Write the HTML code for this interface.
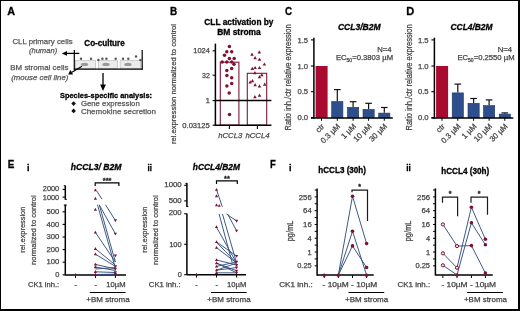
<!DOCTYPE html>
<html><head><meta charset="utf-8"><style>
html,body{margin:0;padding:0;background:#fff;width:520px;height:311px;overflow:hidden}
svg{display:block;font-family:"Liberation Sans",sans-serif;will-change:transform}
</style></head><body>
<svg width="520" height="311" viewBox="0 0 520 311">
<rect x="0" y="0" width="520" height="1" fill="#000" stroke="none" stroke-width="1"/>
<rect x="0" y="0" width="1" height="311" fill="#000" stroke="none" stroke-width="1"/>
<rect x="518" y="0" width="2" height="311" fill="#000" stroke="none" stroke-width="1"/>
<rect x="0" y="309" width="520" height="2" fill="#000" stroke="none" stroke-width="1"/>
<text x="7.3" y="15.4" font-size="11.2" font-weight="bold" fill="#000" textLength="7.8" lengthAdjust="spacingAndGlyphs" stroke="#000" stroke-width="0.3" >A</text>
<text x="169.9" y="15.4" font-size="11.2" font-weight="bold" fill="#000" textLength="7.2" lengthAdjust="spacingAndGlyphs" stroke="#000" stroke-width="0.3" >B</text>
<text x="285.0" y="15.4" font-size="11.2" font-weight="bold" fill="#000" textLength="7.1" lengthAdjust="spacingAndGlyphs" stroke="#000" stroke-width="0.3" >C</text>
<text x="406.2" y="15.4" font-size="11.2" font-weight="bold" fill="#000" textLength="8.0" lengthAdjust="spacingAndGlyphs" stroke="#000" stroke-width="0.3" >D</text>
<text x="7.7" y="168.1" font-size="11.2" font-weight="bold" fill="#000" textLength="6.6" lengthAdjust="spacingAndGlyphs" stroke="#000" stroke-width="0.3" >E</text>
<text x="270.1" y="168.1" font-size="11.2" font-weight="bold" fill="#000" textLength="5.8" lengthAdjust="spacingAndGlyphs" stroke="#000" stroke-width="0.3" >F</text>
<text x="12.4" y="43.8" font-size="7.7" fill="#555555" textLength="60.2" lengthAdjust="spacingAndGlyphs" stroke="#555555" stroke-width="0.25" >CLL primary cells</text>
<text x="28.9" y="52.8" font-size="7.7" font-style="italic" fill="#555555" textLength="28.3" lengthAdjust="spacingAndGlyphs" stroke="#555555" stroke-width="0.25" >(human)</text>
<text x="10.3" y="70.4" font-size="7.7" fill="#555555" textLength="58.1" lengthAdjust="spacingAndGlyphs" stroke="#555555" stroke-width="0.25" >BM stromal cells</text>
<text x="11.2" y="79.6" font-size="7.7" font-style="italic" fill="#555555" textLength="57.2" lengthAdjust="spacingAndGlyphs" stroke="#555555" stroke-width="0.25" >(mouse cell line)</text>
<text x="84.3" y="45.5" font-size="8.2" font-weight="bold" fill="#000" textLength="40.4" lengthAdjust="spacingAndGlyphs" stroke="#000" stroke-width="0.3" >Co-culture</text>
<rect x="75.4" y="60.6" width="20.0" height="8.2" fill="#ececec" stroke="#bdbdbd" stroke-width="0.7"/>
<rect x="98.4" y="60.6" width="19.1" height="8.2" fill="#ececec" stroke="#bdbdbd" stroke-width="0.7"/>
<rect x="120.2" y="60.6" width="20.1" height="8.2" fill="#ececec" stroke="#bdbdbd" stroke-width="0.7"/>
<ellipse cx="84.6" cy="64.4" rx="3.7" ry="1.6" fill="#999"/>
<ellipse cx="106.0" cy="64.4" rx="3.7" ry="1.6" fill="#999"/>
<ellipse cx="127.9" cy="64.4" rx="3.7" ry="1.6" fill="#999"/>
<circle cx="81" cy="58.7" r="1.25" fill="#5a5a5a" stroke="none" stroke-width="0.8"/>
<circle cx="91" cy="58.7" r="1.25" fill="#5a5a5a" stroke="none" stroke-width="0.8"/>
<circle cx="98.4" cy="60" r="1.25" fill="#5a5a5a" stroke="none" stroke-width="0.8"/>
<circle cx="102.4" cy="58.7" r="1.25" fill="#5a5a5a" stroke="none" stroke-width="0.8"/>
<circle cx="106.4" cy="58.7" r="1.25" fill="#5a5a5a" stroke="none" stroke-width="0.8"/>
<circle cx="115.7" cy="58.7" r="1.25" fill="#5a5a5a" stroke="none" stroke-width="0.8"/>
<circle cx="123" cy="58.7" r="1.25" fill="#5a5a5a" stroke="none" stroke-width="0.8"/>
<circle cx="128.3" cy="58.7" r="1.25" fill="#5a5a5a" stroke="none" stroke-width="0.8"/>
<circle cx="136" cy="56.5" r="1.25" fill="#5a5a5a" stroke="none" stroke-width="0.8"/>
<circle cx="140.4" cy="60" r="1.25" fill="#5a5a5a" stroke="none" stroke-width="0.8"/>
<line x1="74.3" y1="50" x2="74.3" y2="69.7" stroke="#000" stroke-width="1.2" />
<line x1="142.2" y1="50" x2="142.2" y2="69.7" stroke="#000" stroke-width="1.2" />
<line x1="73.8" y1="69.2" x2="142.7" y2="69.2" stroke="#000" stroke-width="1.2" />
<line x1="79.3" y1="53.4" x2="65" y2="53.4" stroke="#000" stroke-width="1.3" />
<polygon points="61.8,53.4 67,51.1 67,55.7" fill="#000"/>
<line x1="82" y1="66.3" x2="71.5" y2="72.4" stroke="#000" stroke-width="1.2" />
<polygon points="68.2,74.4 70.3,69.9 73.1,74.4" fill="#000"/>
<line x1="103" y1="73" x2="103" y2="85" stroke="#000" stroke-width="1.3" />
<polygon points="103,91 100.1,84.4 105.9,84.4" fill="#000"/>
<text x="60" y="97.6" font-size="7.7" font-weight="bold" fill="#000" textLength="92" lengthAdjust="spacingAndGlyphs" stroke="#000" stroke-width="0.3" >Species-specific analysis:</text>
<polygon points="73.6,101.3 75.9,103.6 73.6,105.9 71.3,103.6" fill="#111"/>
<polygon points="73.6,108.6 75.9,110.9 73.6,113.2 71.3,110.9" fill="#111"/>
<text x="80.9" y="106.2" font-size="7.7" fill="#555555" textLength="58.9" lengthAdjust="spacingAndGlyphs" stroke="#555555" stroke-width="0.25" >Gene expression</text>
<text x="80.9" y="113.6" font-size="7.7" fill="#555555" textLength="75.1" lengthAdjust="spacingAndGlyphs" stroke="#555555" stroke-width="0.25" >Chemokine secretion</text>
<text x="204.3" y="25.1" font-size="8.3" font-weight="bold" fill="#000" textLength="69.2" lengthAdjust="spacingAndGlyphs" stroke="#000" stroke-width="0.3" >CLL activation by</text>
<text x="217.2" y="34.5" font-size="8.3" font-weight="bold" fill="#000" textLength="43.6" lengthAdjust="spacingAndGlyphs" stroke="#000" stroke-width="0.3" >BM stroma</text>
<text x="0" y="0" font-size="8.0" text-anchor="middle" fill="#444" textLength="120" lengthAdjust="spacingAndGlyphs" stroke="#444" stroke-width="0.25" transform="translate(176.0,84) rotate(-90)">rel.expression normalized to control</text>
<rect x="220.3" y="62.2" width="18.6" height="63" fill="none" stroke="#7d1a38" stroke-width="1.1"/>
<rect x="247.3" y="73.3" width="19.4" height="51.9" fill="none" stroke="#7d1a38" stroke-width="1.1"/>
<line x1="215.4" y1="43.6" x2="215.4" y2="125.8" stroke="#000" stroke-width="1.5" />
<line x1="212.6" y1="50.8" x2="215.4" y2="50.8" stroke="#000" stroke-width="1.1" />
<text x="209.8" y="53.4" font-size="7.4" text-anchor="end" fill="#444" textLength="16.5" lengthAdjust="spacingAndGlyphs" stroke="#444" stroke-width="0.25" >1024</text>
<line x1="212.6" y1="75.2" x2="215.4" y2="75.2" stroke="#000" stroke-width="1.1" />
<text x="209.8" y="77.8" font-size="7.4" text-anchor="end" fill="#444" textLength="7.8" lengthAdjust="spacingAndGlyphs" stroke="#444" stroke-width="0.25" >32</text>
<line x1="212.6" y1="100.6" x2="215.4" y2="100.6" stroke="#000" stroke-width="1.1" />
<text x="209.8" y="103.19999999999999" font-size="7.4" text-anchor="end" fill="#444" stroke="#444" stroke-width="0.25" >1</text>
<line x1="212.6" y1="125.2" x2="215.4" y2="125.2" stroke="#000" stroke-width="1.1" />
<text x="209.8" y="127.8" font-size="7.4" text-anchor="end" fill="#444" textLength="27.5" lengthAdjust="spacingAndGlyphs" stroke="#444" stroke-width="0.25" >0.03125</text>
<line x1="215.4" y1="100.6" x2="271.4" y2="100.6" stroke="#000" stroke-width="1.5" />
<line x1="214.8" y1="125.3" x2="271.4" y2="125.3" stroke="#000" stroke-width="1.5" />
<line x1="229.4" y1="125.3" x2="229.4" y2="129" stroke="#000" stroke-width="1.1" />
<line x1="257.4" y1="125.3" x2="257.4" y2="129" stroke="#000" stroke-width="1.1" />
<text x="218.3" y="138.2" font-size="8" font-style="italic" fill="#444" textLength="23.9" lengthAdjust="spacingAndGlyphs" stroke="#444" stroke-width="0.25" >hCCL3</text>
<text x="245.4" y="138.2" font-size="8" font-style="italic" fill="#444" textLength="24.3" lengthAdjust="spacingAndGlyphs" stroke="#444" stroke-width="0.25" >hCCL4</text>
<circle cx="229.4" cy="46.4" r="1.75" fill="#801030" stroke="none" stroke-width="0.8"/>
<circle cx="226.8" cy="51.8" r="1.75" fill="#801030" stroke="none" stroke-width="0.8"/>
<circle cx="231.7" cy="51.8" r="1.75" fill="#801030" stroke="none" stroke-width="0.8"/>
<circle cx="224.5" cy="55.3" r="1.75" fill="#801030" stroke="none" stroke-width="0.8"/>
<circle cx="229.4" cy="58.5" r="1.75" fill="#801030" stroke="none" stroke-width="0.8"/>
<circle cx="234.2" cy="58.5" r="1.75" fill="#801030" stroke="none" stroke-width="0.8"/>
<circle cx="222.2" cy="62" r="1.75" fill="#801030" stroke="none" stroke-width="0.8"/>
<circle cx="226.8" cy="62" r="1.75" fill="#801030" stroke="none" stroke-width="0.8"/>
<circle cx="231.7" cy="62" r="1.75" fill="#801030" stroke="none" stroke-width="0.8"/>
<circle cx="234" cy="64.3" r="1.75" fill="#801030" stroke="none" stroke-width="0.8"/>
<circle cx="231.7" cy="68.4" r="1.75" fill="#801030" stroke="none" stroke-width="0.8"/>
<circle cx="226.8" cy="70.6" r="1.75" fill="#801030" stroke="none" stroke-width="0.8"/>
<circle cx="226.9" cy="75.4" r="1.75" fill="#801030" stroke="none" stroke-width="0.8"/>
<circle cx="231.7" cy="77.7" r="1.75" fill="#801030" stroke="none" stroke-width="0.8"/>
<circle cx="231.7" cy="83.6" r="1.75" fill="#801030" stroke="none" stroke-width="0.8"/>
<circle cx="226.9" cy="86.0" r="1.75" fill="#801030" stroke="none" stroke-width="0.8"/>
<circle cx="229.2" cy="92.9" r="1.75" fill="#801030" stroke="none" stroke-width="0.8"/>
<circle cx="229.5" cy="114.5" r="1.75" fill="#801030" stroke="none" stroke-width="0.8"/>
<polygon points="252,52.61 250.25,55.76 253.75,55.76" fill="#801030"/>
<polygon points="259.3,50.31 257.55,53.46 261.05,53.46" fill="#801030"/>
<polygon points="255.1,56.11 253.35,59.26 256.85,59.26" fill="#801030"/>
<polygon points="259.5,57.61 257.75,60.76 261.25,60.76" fill="#801030"/>
<polygon points="264.4,62.41 262.65,65.56 266.15,65.56" fill="#801030"/>
<polygon points="252.3,66.81 250.55,69.96000000000001 254.05,69.96000000000001" fill="#801030"/>
<polygon points="255.1,65.91 253.35,69.06 256.85,69.06" fill="#801030"/>
<polygon points="259.5,65.91 257.75,69.06 261.25,69.06" fill="#801030"/>
<polygon points="254.9,71.11 253.15,74.26 256.65,74.26" fill="#801030"/>
<polygon points="261.8,73.01 260.05,76.16000000000001 263.55,76.16000000000001" fill="#801030"/>
<polygon points="259.5,75.11 257.75,78.26 261.25,78.26" fill="#801030"/>
<polygon points="250.2,80.31 248.45,83.46000000000001 251.95,83.46000000000001" fill="#801030"/>
<polygon points="252.5,79.11 250.75,82.26 254.25,82.26" fill="#801030"/>
<polygon points="255.1,83.11 253.35,86.26 256.85,86.26" fill="#801030"/>
<polygon points="259.5,84.31 257.75,87.46000000000001 261.25,87.46000000000001" fill="#801030"/>
<polygon points="264.7,82.61 262.95,85.76 266.45,85.76" fill="#801030"/>
<polygon points="254.9,95.01 253.15,98.16000000000001 256.65,98.16000000000001" fill="#801030"/>
<polygon points="259.5,93.61 257.75,96.76 261.25,96.76" fill="#801030"/>
<text x="337.9" y="30.2" font-size="8.7" font-weight="bold" font-style="italic" fill="#000" textLength="42.7" lengthAdjust="spacingAndGlyphs" stroke="#000" stroke-width="0.3" >CCL3/B2M</text>
<text x="0" y="0" font-size="8.2" text-anchor="middle" fill="#444" textLength="106" lengthAdjust="spacingAndGlyphs" stroke="#444" stroke-width="0.25" transform="translate(291.2,77.4) rotate(-90)">Ratio inh./ctr relative expression</text>
<text x="391.6" y="52.1" font-size="7.6" text-anchor="end" fill="#444" textLength="14.4" lengthAdjust="spacingAndGlyphs" stroke="#444" stroke-width="0.25" >N=4</text>
<text x="335.9" y="60.4" font-size="7.7" fill="#444" stroke="#444" stroke-width="0.25">EC<tspan font-size="5" dy="2">50</tspan><tspan dy="-2">=0.3803 µM</tspan></text>
<rect x="315.6" y="66.0" width="12.0" height="51.8" fill="#a90a30" stroke="none" stroke-width="1"/>
<rect x="331.7" y="101.5" width="11.2" height="16.299999999999994" fill="#2f4f8c" stroke="#1e3563" stroke-width="0.6"/>
<line x1="337.29999999999995" y1="89.6" x2="337.29999999999995" y2="101.2" stroke="#111" stroke-width="1.2" />
<line x1="333.99999999999994" y1="89.6" x2="340.59999999999997" y2="89.6" stroke="#111" stroke-width="1.2" />
<rect x="347.5" y="107.3" width="11.2" height="10.499999999999996" fill="#2f4f8c" stroke="#1e3563" stroke-width="0.6"/>
<line x1="353.09999999999997" y1="101.7" x2="353.09999999999997" y2="107.0" stroke="#111" stroke-width="1.2" />
<line x1="349.79999999999995" y1="101.7" x2="356.4" y2="101.7" stroke="#111" stroke-width="1.2" />
<rect x="363.0" y="109.39999999999999" width="11.2" height="8.400000000000002" fill="#2f4f8c" stroke="#1e3563" stroke-width="0.6"/>
<line x1="368.59999999999997" y1="103.3" x2="368.59999999999997" y2="109.1" stroke="#111" stroke-width="1.2" />
<line x1="365.29999999999995" y1="103.3" x2="371.9" y2="103.3" stroke="#111" stroke-width="1.2" />
<rect x="378.7" y="113.1" width="11.2" height="4.7" fill="#2f4f8c" stroke="#1e3563" stroke-width="0.6"/>
<line x1="384.29999999999995" y1="107.5" x2="384.29999999999995" y2="112.8" stroke="#111" stroke-width="1.2" />
<line x1="380.99999999999994" y1="107.5" x2="387.59999999999997" y2="107.5" stroke="#111" stroke-width="1.2" />
<line x1="313.9" y1="37.7" x2="313.9" y2="118.4" stroke="#000" stroke-width="1.5" />
<line x1="310.9" y1="39.9" x2="313.9" y2="39.9" stroke="#000" stroke-width="1.1" />
<text x="308.0" y="42.6" font-size="7.6" text-anchor="end" fill="#444" textLength="10.6" lengthAdjust="spacingAndGlyphs" stroke="#444" stroke-width="0.25" >1.5</text>
<line x1="310.9" y1="66.0" x2="313.9" y2="66.0" stroke="#000" stroke-width="1.1" />
<text x="308.0" y="68.7" font-size="7.6" text-anchor="end" fill="#444" textLength="10.6" lengthAdjust="spacingAndGlyphs" stroke="#444" stroke-width="0.25" >1.0</text>
<line x1="310.9" y1="91.7" x2="313.9" y2="91.7" stroke="#000" stroke-width="1.1" />
<text x="308.0" y="94.4" font-size="7.6" text-anchor="end" fill="#444" textLength="10.6" lengthAdjust="spacingAndGlyphs" stroke="#444" stroke-width="0.25" >0.5</text>
<line x1="310.9" y1="117.6" x2="313.9" y2="117.6" stroke="#000" stroke-width="1.1" />
<text x="308.0" y="120.3" font-size="7.6" text-anchor="end" fill="#444" textLength="10.6" lengthAdjust="spacingAndGlyphs" stroke="#444" stroke-width="0.25" >0.0</text>
<line x1="311" y1="118.0" x2="392.8" y2="118.0" stroke="#000" stroke-width="1.4" />
<line x1="321.5" y1="118.0" x2="321.5" y2="120.8" stroke="#000" stroke-width="1.0" />
<text x="0" y="0" font-size="7.8" text-anchor="end" fill="#444" stroke="#444" stroke-width="0.25" transform="translate(324.9,126.8) rotate(-45)">ctr</text>
<line x1="337.29999999999995" y1="118.0" x2="337.29999999999995" y2="120.8" stroke="#000" stroke-width="1.0" />
<text x="0" y="0" font-size="7.8" text-anchor="end" fill="#444" stroke="#444" stroke-width="0.25" transform="translate(340.69999999999993,126.8) rotate(-45)">0.3 µM</text>
<line x1="353.09999999999997" y1="118.0" x2="353.09999999999997" y2="120.8" stroke="#000" stroke-width="1.0" />
<text x="0" y="0" font-size="7.8" text-anchor="end" fill="#444" stroke="#444" stroke-width="0.25" transform="translate(356.49999999999994,126.8) rotate(-45)">1 µM</text>
<line x1="368.59999999999997" y1="118.0" x2="368.59999999999997" y2="120.8" stroke="#000" stroke-width="1.0" />
<text x="0" y="0" font-size="7.8" text-anchor="end" fill="#444" stroke="#444" stroke-width="0.25" transform="translate(371.99999999999994,126.8) rotate(-45)">10 µM</text>
<line x1="384.29999999999995" y1="118.0" x2="384.29999999999995" y2="120.8" stroke="#000" stroke-width="1.0" />
<text x="0" y="0" font-size="7.8" text-anchor="end" fill="#444" stroke="#444" stroke-width="0.25" transform="translate(387.69999999999993,126.8) rotate(-45)">30 µM</text>
<text x="450.5" y="30.2" font-size="8.7" font-weight="bold" font-style="italic" fill="#000" textLength="42.0" lengthAdjust="spacingAndGlyphs" stroke="#000" stroke-width="0.3" >CCL4/B2M</text>
<text x="0" y="0" font-size="8.2" text-anchor="middle" fill="#444" textLength="106" lengthAdjust="spacingAndGlyphs" stroke="#444" stroke-width="0.25" transform="translate(411.7,77.4) rotate(-90)">Ratio inh./ctr relative expression</text>
<text x="512.1" y="52.1" font-size="7.6" text-anchor="end" fill="#444" textLength="14.4" lengthAdjust="spacingAndGlyphs" stroke="#444" stroke-width="0.25" >N=4</text>
<text x="457.4" y="60.4" font-size="7.7" fill="#444" stroke="#444" stroke-width="0.25">EC<tspan font-size="5" dy="2">50</tspan><tspan dy="-2">=0.2550 µM</tspan></text>
<rect x="436.1" y="66.0" width="12.0" height="51.8" fill="#a90a30" stroke="none" stroke-width="1"/>
<rect x="452.2" y="92.89999999999999" width="11.2" height="24.900000000000002" fill="#2f4f8c" stroke="#1e3563" stroke-width="0.6"/>
<line x1="457.79999999999995" y1="84.1" x2="457.79999999999995" y2="92.6" stroke="#111" stroke-width="1.2" />
<line x1="454.49999999999994" y1="84.1" x2="461.09999999999997" y2="84.1" stroke="#111" stroke-width="1.2" />
<rect x="468.0" y="103.3" width="11.2" height="14.499999999999996" fill="#2f4f8c" stroke="#1e3563" stroke-width="0.6"/>
<line x1="473.59999999999997" y1="98.5" x2="473.59999999999997" y2="103.0" stroke="#111" stroke-width="1.2" />
<line x1="470.29999999999995" y1="98.5" x2="476.9" y2="98.5" stroke="#111" stroke-width="1.2" />
<rect x="483.5" y="105.6" width="11.2" height="12.2" fill="#2f4f8c" stroke="#1e3563" stroke-width="0.6"/>
<line x1="489.09999999999997" y1="99.9" x2="489.09999999999997" y2="105.3" stroke="#111" stroke-width="1.2" />
<line x1="485.79999999999995" y1="99.9" x2="492.4" y2="99.9" stroke="#111" stroke-width="1.2" />
<rect x="499.2" y="114.1" width="11.2" height="3.7" fill="#2f4f8c" stroke="#1e3563" stroke-width="0.6"/>
<line x1="504.79999999999995" y1="112.9" x2="504.79999999999995" y2="113.8" stroke="#111" stroke-width="1.2" />
<line x1="501.49999999999994" y1="112.9" x2="508.09999999999997" y2="112.9" stroke="#111" stroke-width="1.2" />
<line x1="434.4" y1="37.7" x2="434.4" y2="118.4" stroke="#000" stroke-width="1.5" />
<line x1="431.4" y1="39.9" x2="434.4" y2="39.9" stroke="#000" stroke-width="1.1" />
<text x="428.5" y="42.6" font-size="7.6" text-anchor="end" fill="#444" textLength="10.6" lengthAdjust="spacingAndGlyphs" stroke="#444" stroke-width="0.25" >1.5</text>
<line x1="431.4" y1="66.0" x2="434.4" y2="66.0" stroke="#000" stroke-width="1.1" />
<text x="428.5" y="68.7" font-size="7.6" text-anchor="end" fill="#444" textLength="10.6" lengthAdjust="spacingAndGlyphs" stroke="#444" stroke-width="0.25" >1.0</text>
<line x1="431.4" y1="91.7" x2="434.4" y2="91.7" stroke="#000" stroke-width="1.1" />
<text x="428.5" y="94.4" font-size="7.6" text-anchor="end" fill="#444" textLength="10.6" lengthAdjust="spacingAndGlyphs" stroke="#444" stroke-width="0.25" >0.5</text>
<line x1="431.4" y1="117.6" x2="434.4" y2="117.6" stroke="#000" stroke-width="1.1" />
<text x="428.5" y="120.3" font-size="7.6" text-anchor="end" fill="#444" textLength="10.6" lengthAdjust="spacingAndGlyphs" stroke="#444" stroke-width="0.25" >0.0</text>
<line x1="431.5" y1="118.0" x2="513.3" y2="118.0" stroke="#000" stroke-width="1.4" />
<line x1="442.0" y1="118.0" x2="442.0" y2="120.8" stroke="#000" stroke-width="1.0" />
<text x="0" y="0" font-size="7.8" text-anchor="end" fill="#444" stroke="#444" stroke-width="0.25" transform="translate(445.4,126.8) rotate(-45)">ctr</text>
<line x1="457.79999999999995" y1="118.0" x2="457.79999999999995" y2="120.8" stroke="#000" stroke-width="1.0" />
<text x="0" y="0" font-size="7.8" text-anchor="end" fill="#444" stroke="#444" stroke-width="0.25" transform="translate(461.19999999999993,126.8) rotate(-45)">0.3 µM</text>
<line x1="473.59999999999997" y1="118.0" x2="473.59999999999997" y2="120.8" stroke="#000" stroke-width="1.0" />
<text x="0" y="0" font-size="7.8" text-anchor="end" fill="#444" stroke="#444" stroke-width="0.25" transform="translate(476.99999999999994,126.8) rotate(-45)">1 µM</text>
<line x1="489.09999999999997" y1="118.0" x2="489.09999999999997" y2="120.8" stroke="#000" stroke-width="1.0" />
<text x="0" y="0" font-size="7.8" text-anchor="end" fill="#444" stroke="#444" stroke-width="0.25" transform="translate(492.49999999999994,126.8) rotate(-45)">10 µM</text>
<line x1="504.79999999999995" y1="118.0" x2="504.79999999999995" y2="120.8" stroke="#000" stroke-width="1.0" />
<text x="0" y="0" font-size="7.8" text-anchor="end" fill="#444" stroke="#444" stroke-width="0.25" transform="translate(508.19999999999993,126.8) rotate(-45)">30 µM</text>
<text x="27.0" y="170.8" font-size="9" font-weight="bold" fill="#000" stroke="#000" stroke-width="0.3" >i</text>
<text x="70.8" y="169.8" font-size="8.6" font-weight="bold" font-style="italic" fill="#000" textLength="50.7" lengthAdjust="spacingAndGlyphs" stroke="#000" stroke-width="0.3" >hCCL3/ B2M</text>
<text x="0" y="0" font-size="8.1" text-anchor="middle" fill="#444" textLength="46" lengthAdjust="spacingAndGlyphs" stroke="#444" stroke-width="0.25" transform="translate(25.4,229.7) rotate(-90)">rel.expression</text>
<text x="0" y="0" font-size="8.1" text-anchor="middle" fill="#444" textLength="69.6" lengthAdjust="spacingAndGlyphs" stroke="#444" stroke-width="0.25" transform="translate(36.0,230.1) rotate(-90)">normalized to control</text>
<text x="107.1" y="183.3" font-size="7.4" text-anchor="middle" font-weight="bold" fill="#222" stroke="#222" stroke-width="0.3" >***</text>
<path d="M95.2,186.0 V182.8 H118.9 V186.0" stroke="#000" stroke-width="1.2" fill="none"/>
<line x1="65.3" y1="185.5" x2="65.3" y2="199.7" stroke="#000" stroke-width="1.5" />
<line x1="65.3" y1="199.3" x2="66.8" y2="199.3" stroke="#000" stroke-width="1.0" />
<line x1="63.8" y1="185.8" x2="65.3" y2="185.8" stroke="#000" stroke-width="1.0" />
<line x1="62.6" y1="189.4" x2="65.3" y2="189.4" stroke="#000" stroke-width="1.1" />
<line x1="62.6" y1="197.1" x2="65.3" y2="197.1" stroke="#000" stroke-width="1.1" />
<text x="59.2" y="191.4" font-size="7.3" text-anchor="end" fill="#444" textLength="16.4" lengthAdjust="spacingAndGlyphs" stroke="#444" stroke-width="0.25" >2000</text>
<text x="59.2" y="199.5" font-size="7.3" text-anchor="end" fill="#444" textLength="16.4" lengthAdjust="spacingAndGlyphs" stroke="#444" stroke-width="0.25" >1000</text>
<line x1="65.3" y1="204.7" x2="65.3" y2="275.5" stroke="#000" stroke-width="1.5" />
<line x1="63.8" y1="205.1" x2="66.8" y2="205.1" stroke="#000" stroke-width="1.0" />
<line x1="62.6" y1="211.8" x2="65.3" y2="211.8" stroke="#000" stroke-width="1.1" />
<text x="59.4" y="214.0" font-size="7.4" text-anchor="end" fill="#444" textLength="12.8" lengthAdjust="spacingAndGlyphs" stroke="#444" stroke-width="0.25" >500</text>
<line x1="62.6" y1="224.4" x2="65.3" y2="224.4" stroke="#000" stroke-width="1.1" />
<text x="59.4" y="226.6" font-size="7.4" text-anchor="end" fill="#444" textLength="12.8" lengthAdjust="spacingAndGlyphs" stroke="#444" stroke-width="0.25" >400</text>
<line x1="62.6" y1="237.0" x2="65.3" y2="237.0" stroke="#000" stroke-width="1.1" />
<text x="59.4" y="239.2" font-size="7.4" text-anchor="end" fill="#444" textLength="12.8" lengthAdjust="spacingAndGlyphs" stroke="#444" stroke-width="0.25" >300</text>
<line x1="62.6" y1="249.60000000000002" x2="65.3" y2="249.60000000000002" stroke="#000" stroke-width="1.1" />
<text x="59.4" y="251.8" font-size="7.4" text-anchor="end" fill="#444" textLength="12.8" lengthAdjust="spacingAndGlyphs" stroke="#444" stroke-width="0.25" >200</text>
<line x1="62.6" y1="262.2" x2="65.3" y2="262.2" stroke="#000" stroke-width="1.1" />
<text x="59.4" y="264.4" font-size="7.4" text-anchor="end" fill="#444" textLength="12.8" lengthAdjust="spacingAndGlyphs" stroke="#444" stroke-width="0.25" >100</text>
<line x1="62.6" y1="274.8" x2="65.3" y2="274.8" stroke="#000" stroke-width="1.1" />
<text x="59.4" y="277.0" font-size="7.4" text-anchor="end" fill="#444" stroke="#444" stroke-width="0.25" >0</text>
<line x1="65.3" y1="275.1" x2="126" y2="275.1" stroke="#000" stroke-width="1.5" />
<line x1="75.5" y1="275.1" x2="75.5" y2="278" stroke="#000" stroke-width="1.0" />
<line x1="95.4" y1="275.1" x2="95.4" y2="278" stroke="#000" stroke-width="1.0" />
<line x1="115.4" y1="275.1" x2="115.4" y2="278" stroke="#000" stroke-width="1.0" />
<g stroke="#34507f" stroke-width="0.95" fill="none">
<polyline points="96.8,191 102,199.2"/>
<polyline points="97.5,204.8 114.8,266"/>
<polyline points="99.3,204.8 115.4,262"/>
<polyline points="99.2,204.8 115.4,233.8"/>
<polyline points="105.5,204.8 115.4,220.5"/>
<polyline points="95.4,232.4 115.4,262"/>
<polyline points="95.4,248.8 115.4,265"/>
<polyline points="95.4,254.2 115.4,266.4"/>
<polyline points="95.4,264.4 115.4,269"/>
<polyline points="95.4,267 115.4,270.5"/>
<polyline points="95.4,271.8 115.4,272.5"/>
<polyline points="95.4,274.5 115.4,274.2"/>
<polyline points="95.4,269 115.4,267.5"/>
</g>
<polygon points="95.4,188.47199999999998 93.80000000000001,191.35199999999998 97.0,191.35199999999998" fill="#801030"/>
<polygon points="95.4,196.87199999999999 93.80000000000001,199.75199999999998 97.0,199.75199999999998" fill="#801030"/>
<polygon points="95.4,207.772 93.80000000000001,210.652 97.0,210.652" fill="#801030"/>
<polygon points="95.4,230.672 93.80000000000001,233.552 97.0,233.552" fill="#801030"/>
<polygon points="95.4,247.072 93.80000000000001,249.952 97.0,249.952" fill="#801030"/>
<polygon points="95.4,252.47199999999998 93.80000000000001,255.35199999999998 97.0,255.35199999999998" fill="#801030"/>
<polygon points="95.4,262.67199999999997 93.80000000000001,265.55199999999996 97.0,265.55199999999996" fill="#801030"/>
<polygon points="95.4,265.272 93.80000000000001,268.152 97.0,268.152" fill="#801030"/>
<polygon points="95.4,270.072 93.80000000000001,272.952 97.0,272.952" fill="#801030"/>
<polygon points="95.4,272.772 93.80000000000001,275.652 97.0,275.652" fill="#801030"/>
<polygon points="115.4,222.228 113.80000000000001,219.348 117.0,219.348" fill="#801030"/>
<polygon points="115.4,235.52800000000002 113.80000000000001,232.64800000000002 117.0,232.64800000000002" fill="#801030"/>
<polygon points="115.4,257.328 113.80000000000001,254.448 117.0,254.448" fill="#801030"/>
<polygon points="115.4,268.128 113.80000000000001,265.248 117.0,265.248" fill="#801030"/>
<polygon points="115.4,270.728 113.80000000000001,267.848 117.0,267.848" fill="#801030"/>
<polygon points="115.4,274.228 113.80000000000001,271.348 117.0,271.348" fill="#801030"/>
<polygon points="115.4,275.928 113.80000000000001,273.048 117.0,273.048" fill="#801030"/>
<polygon points="75.5,272.98 74.0,275.68 77.0,275.68" fill="#801030"/>
<text x="28.0" y="287.3" font-size="7.3" fill="#444" textLength="31.2" lengthAdjust="spacingAndGlyphs" stroke="#444" stroke-width="0.25" >CK1 inh.:</text>
<text x="75.7" y="287.3" font-size="7.3" text-anchor="middle" fill="#444" stroke="#444" stroke-width="0.25" >-</text>
<text x="95.7" y="287.3" font-size="7.3" text-anchor="middle" fill="#444" stroke="#444" stroke-width="0.25" >-</text>
<text x="106.3" y="287.3" font-size="7.3" fill="#444" textLength="19.3" lengthAdjust="spacingAndGlyphs" stroke="#444" stroke-width="0.25" >10µM</text>
<line x1="89.8" y1="292.5" x2="125.6" y2="292.5" stroke="#000" stroke-width="1.1" />
<text x="86.3" y="302.2" font-size="7.3" fill="#444" textLength="43.3" lengthAdjust="spacingAndGlyphs" stroke="#444" stroke-width="0.25" >+BM stroma</text>
<text x="147.6" y="170.8" font-size="9" font-weight="bold" fill="#000" textLength="4.4" lengthAdjust="spacingAndGlyphs" stroke="#000" stroke-width="0.3" >ii</text>
<text x="192.8" y="169.8" font-size="8.6" font-weight="bold" font-style="italic" fill="#000" textLength="47.1" lengthAdjust="spacingAndGlyphs" stroke="#000" stroke-width="0.3" >hCCL4/B2M</text>
<text x="0" y="0" font-size="8.1" text-anchor="middle" fill="#444" textLength="46" lengthAdjust="spacingAndGlyphs" stroke="#444" stroke-width="0.25" transform="translate(146.6,229.7) rotate(-90)">rel.expression</text>
<text x="0" y="0" font-size="8.1" text-anchor="middle" fill="#444" textLength="69.6" lengthAdjust="spacingAndGlyphs" stroke="#444" stroke-width="0.25" transform="translate(157.9,230.1) rotate(-90)">normalized to control</text>
<text x="226.9" y="181.4" font-size="7.4" text-anchor="middle" font-weight="bold" fill="#222" stroke="#222" stroke-width="0.3" >**</text>
<path d="M216.5,184.1 V180.8 H237.3 V184.1" stroke="#000" stroke-width="1.2" fill="none"/>
<line x1="186.9" y1="183" x2="186.9" y2="207" stroke="#000" stroke-width="1.5" />
<line x1="185.4" y1="183.3" x2="186.9" y2="183.3" stroke="#000" stroke-width="1.0" />
<line x1="186.9" y1="206.6" x2="188.4" y2="206.6" stroke="#000" stroke-width="1.0" />
<line x1="184.2" y1="185.3" x2="186.9" y2="185.3" stroke="#000" stroke-width="1.1" />
<line x1="184.2" y1="200.9" x2="186.9" y2="200.9" stroke="#000" stroke-width="1.1" />
<text x="181.7" y="187.4" font-size="7.3" text-anchor="end" fill="#444" textLength="17.4" lengthAdjust="spacingAndGlyphs" stroke="#444" stroke-width="0.25" >1000</text>
<text x="181.7" y="203.0" font-size="7.3" text-anchor="end" fill="#444" textLength="13" lengthAdjust="spacingAndGlyphs" stroke="#444" stroke-width="0.25" >500</text>
<line x1="186.9" y1="213.6" x2="186.9" y2="275" stroke="#000" stroke-width="1.5" />
<line x1="184.2" y1="213.8" x2="186.9" y2="213.8" stroke="#000" stroke-width="1.1" />
<line x1="184.2" y1="244.3" x2="186.9" y2="244.3" stroke="#000" stroke-width="1.1" />
<line x1="184.2" y1="274.7" x2="186.9" y2="274.7" stroke="#000" stroke-width="1.1" />
<text x="181.7" y="215.3" font-size="7.3" text-anchor="end" fill="#444" textLength="13" lengthAdjust="spacingAndGlyphs" stroke="#444" stroke-width="0.25" >200</text>
<text x="181.7" y="246.9" font-size="7.3" text-anchor="end" fill="#444" textLength="12.5" lengthAdjust="spacingAndGlyphs" stroke="#444" stroke-width="0.25" >100</text>
<text x="181.7" y="277.3" font-size="7.3" text-anchor="end" fill="#444" stroke="#444" stroke-width="0.25" >0</text>
<line x1="186.9" y1="274.7" x2="246" y2="274.7" stroke="#000" stroke-width="1.5" />
<line x1="196.5" y1="274.7" x2="196.5" y2="277.6" stroke="#000" stroke-width="1.0" />
<line x1="216.6" y1="274.7" x2="216.6" y2="277.6" stroke="#000" stroke-width="1.0" />
<line x1="236.6" y1="274.7" x2="236.6" y2="277.6" stroke="#000" stroke-width="1.0" />
<g stroke="#34507f" stroke-width="0.95" fill="none">
<polyline points="216.6,190 222.3,206.8"/>
<polyline points="219.1,214 232,262"/>
<polyline points="222.5,214 236.6,263"/>
<polyline points="226.5,214 236.6,221"/>
<polyline points="227.6,214 236.6,230.8"/>
<polyline points="216.3,226.9 236.6,263"/>
<polyline points="216.3,242.1 236.6,263"/>
<polyline points="216.5,241.9 236.6,256.1"/>
<polyline points="216.5,247.7 236.6,263"/>
<polyline points="216.5,259.9 236.6,265.1"/>
<polyline points="216.5,263.1 236.6,270.8"/>
<polyline points="216.5,266.4 236.6,261.9"/>
<polyline points="216.5,270.2 236.6,267.6"/>
<polyline points="216.5,272.8 236.6,272.8"/>
<polyline points="216.5,263.1 236.6,272.8"/>
<polyline points="216.5,270.2 236.6,263"/>
</g>
<polygon points="216.5,187.97199999999998 214.9,190.85199999999998 218.1,190.85199999999998" fill="#801030"/>
<polygon points="216.5,194.272 214.9,197.152 218.1,197.152" fill="#801030"/>
<polygon points="216.5,203.47199999999998 214.9,206.35199999999998 218.1,206.35199999999998" fill="#801030"/>
<polygon points="216.5,225.172 214.9,228.052 218.1,228.052" fill="#801030"/>
<polygon points="216.5,240.172 214.9,243.052 218.1,243.052" fill="#801030"/>
<polygon points="216.5,245.97199999999998 214.9,248.85199999999998 218.1,248.85199999999998" fill="#801030"/>
<polygon points="216.5,258.17199999999997 214.9,261.05199999999996 218.1,261.05199999999996" fill="#801030"/>
<polygon points="216.5,261.372 214.9,264.252 218.1,264.252" fill="#801030"/>
<polygon points="216.5,264.67199999999997 214.9,267.55199999999996 218.1,267.55199999999996" fill="#801030"/>
<polygon points="216.5,268.472 214.9,271.352 218.1,271.352" fill="#801030"/>
<polygon points="216.5,271.072 214.9,273.952 218.1,273.952" fill="#801030"/>
<polygon points="219.2,203.98 217.7,206.68 220.7,206.68" fill="#801030"/>
<polygon points="236.6,222.728 235.0,219.848 238.2,219.848" fill="#801030"/>
<polygon points="236.6,232.52800000000002 235.0,229.64800000000002 238.2,229.64800000000002" fill="#801030"/>
<polygon points="236.6,257.82800000000003 235.0,254.94800000000004 238.2,254.94800000000004" fill="#801030"/>
<polygon points="236.6,263.628 235.0,260.748 238.2,260.748" fill="#801030"/>
<polygon points="236.6,266.82800000000003 235.0,263.94800000000004 238.2,263.94800000000004" fill="#801030"/>
<polygon points="236.6,269.32800000000003 235.0,266.44800000000004 238.2,266.44800000000004" fill="#801030"/>
<polygon points="236.6,272.528 235.0,269.648 238.2,269.648" fill="#801030"/>
<polygon points="236.6,274.528 235.0,271.648 238.2,271.648" fill="#801030"/>
<polygon points="196.5,272.78 195.0,275.47999999999996 198.0,275.47999999999996" fill="#801030"/>
<text x="148.8" y="287.3" font-size="7.3" fill="#444" textLength="31.8" lengthAdjust="spacingAndGlyphs" stroke="#444" stroke-width="0.25" >CK1 inh.:</text>
<text x="196.5" y="287.3" font-size="7.3" text-anchor="middle" fill="#444" stroke="#444" stroke-width="0.25" >-</text>
<text x="216.6" y="287.3" font-size="7.3" text-anchor="middle" fill="#444" stroke="#444" stroke-width="0.25" >-</text>
<text x="227.0" y="287.3" font-size="7.3" fill="#444" textLength="19.3" lengthAdjust="spacingAndGlyphs" stroke="#444" stroke-width="0.25" >10µM</text>
<line x1="211" y1="292.5" x2="246.7" y2="292.5" stroke="#000" stroke-width="1.1" />
<text x="207.3" y="302.2" font-size="7.3" fill="#444" textLength="43.3" lengthAdjust="spacingAndGlyphs" stroke="#444" stroke-width="0.25" >+BM stroma</text>
<text x="289.0" y="170.8" font-size="9" font-weight="bold" fill="#000" stroke="#000" stroke-width="0.3" >i</text>
<text x="318.3" y="173.3" font-size="8.3" font-weight="bold" fill="#000" textLength="47.7" lengthAdjust="spacingAndGlyphs" stroke="#000" stroke-width="0.3" >hCCL3 (30h)</text>
<line x1="317.1" y1="188.4" x2="317.1" y2="275.70000000000005" stroke="#000" stroke-width="1.5" />
<line x1="314.70000000000005" y1="265.8" x2="317.1" y2="265.8" stroke="#000" stroke-width="1.0" />
<line x1="314.70000000000005" y1="258.91" x2="317.1" y2="258.91" stroke="#000" stroke-width="1.0" />
<line x1="314.70000000000005" y1="252.02" x2="317.1" y2="252.02" stroke="#000" stroke-width="1.0" />
<line x1="314.70000000000005" y1="245.13000000000002" x2="317.1" y2="245.13000000000002" stroke="#000" stroke-width="1.0" />
<line x1="314.70000000000005" y1="238.24" x2="317.1" y2="238.24" stroke="#000" stroke-width="1.0" />
<line x1="314.70000000000005" y1="231.35000000000002" x2="317.1" y2="231.35000000000002" stroke="#000" stroke-width="1.0" />
<line x1="314.70000000000005" y1="224.46" x2="317.1" y2="224.46" stroke="#000" stroke-width="1.0" />
<line x1="314.70000000000005" y1="217.57000000000002" x2="317.1" y2="217.57000000000002" stroke="#000" stroke-width="1.0" />
<line x1="314.70000000000005" y1="210.68" x2="317.1" y2="210.68" stroke="#000" stroke-width="1.0" />
<line x1="314.70000000000005" y1="203.79000000000002" x2="317.1" y2="203.79000000000002" stroke="#000" stroke-width="1.0" />
<line x1="314.70000000000005" y1="196.90000000000003" x2="317.1" y2="196.90000000000003" stroke="#000" stroke-width="1.0" />
<line x1="314.70000000000005" y1="190.01000000000002" x2="317.1" y2="190.01000000000002" stroke="#000" stroke-width="1.0" />
<text x="311.70000000000005" y="199.50000000000003" font-size="7.4" text-anchor="end" fill="#444" textLength="12.9" lengthAdjust="spacingAndGlyphs" stroke="#444" stroke-width="0.25" >256</text>
<text x="311.70000000000005" y="213.28" font-size="7.4" text-anchor="end" fill="#444" textLength="8.6" lengthAdjust="spacingAndGlyphs" stroke="#444" stroke-width="0.25" >64</text>
<text x="311.70000000000005" y="227.06" font-size="7.4" text-anchor="end" fill="#444" textLength="8.6" lengthAdjust="spacingAndGlyphs" stroke="#444" stroke-width="0.25" >16</text>
<text x="311.70000000000005" y="240.84" font-size="7.4" text-anchor="end" fill="#444" stroke="#444" stroke-width="0.25" >4</text>
<text x="311.70000000000005" y="254.62" font-size="7.4" text-anchor="end" fill="#444" stroke="#444" stroke-width="0.25" >1</text>
<text x="311.70000000000005" y="268.40000000000003" font-size="7.4" text-anchor="end" fill="#444" textLength="14.5" lengthAdjust="spacingAndGlyphs" stroke="#444" stroke-width="0.25" >0.25</text>
<line x1="317.1" y1="275.1" x2="373.7" y2="275.1" stroke="#000" stroke-width="1.5" />
<text x="0" y="0" font-size="8.2" text-anchor="middle" fill="#444" textLength="20.5" lengthAdjust="spacingAndGlyphs" stroke="#444" stroke-width="0.25" transform="translate(293.1,231) rotate(-90)">pg/mL</text>
<line x1="324.2" y1="275.3" x2="324.2" y2="278" stroke="#000" stroke-width="1.0" />
<line x1="338.3" y1="275.3" x2="338.3" y2="278" stroke="#000" stroke-width="1.0" />
<line x1="352.5" y1="275.3" x2="352.5" y2="278" stroke="#000" stroke-width="1.0" />
<line x1="366.6" y1="275.3" x2="366.6" y2="278" stroke="#000" stroke-width="1.0" />
<g stroke="#34507f" stroke-width="0.95" fill="none">
<polyline points="338.3,275.2 352.5,196.2 366.6,243.6"/>
<polyline points="338.3,275.2 352.5,231.2 366.6,275.2"/>
<polyline points="338.3,275.2 352.5,245.9 366.6,267.5"/>
</g>
<circle cx="324.2" cy="275.2" r="1.8" fill="#801030" stroke="none" stroke-width="0.8"/>
<circle cx="338.3" cy="275.2" r="1.8" fill="#801030" stroke="none" stroke-width="0.8"/>
<circle cx="352.5" cy="196.2" r="1.8" fill="#801030" stroke="none" stroke-width="0.8"/>
<circle cx="352.5" cy="231.2" r="1.8" fill="#801030" stroke="none" stroke-width="0.8"/>
<circle cx="352.5" cy="245.9" r="1.8" fill="#801030" stroke="none" stroke-width="0.8"/>
<circle cx="366.6" cy="243.6" r="1.8" fill="#801030" stroke="none" stroke-width="0.8"/>
<circle cx="366.6" cy="267.5" r="1.8" fill="#801030" stroke="none" stroke-width="0.8"/>
<circle cx="366.6" cy="275.2" r="1.8" fill="#801030" stroke="none" stroke-width="0.8"/>
<text x="359.7" y="189.4" font-size="7" text-anchor="middle" font-weight="bold" fill="#222" stroke="#222" stroke-width="0.3" >*</text>
<path d="M352,192.3 V190.2 H367.5 V221" stroke="#1a1a1a" stroke-width="1.2" fill="none"/>
<text x="279.2" y="287.3" font-size="7.3" fill="#444" textLength="33.5" lengthAdjust="spacingAndGlyphs" stroke="#444" stroke-width="0.25" >CK1 inh.:</text>
<text x="322.6" y="287.3" font-size="7.3" fill="#444" textLength="54.7" lengthAdjust="spacingAndGlyphs" stroke="#444" stroke-width="0.25" >- 10µM - 10µM</text>
<line x1="348.5" y1="292.5" x2="384.2" y2="292.5" stroke="#000" stroke-width="1.1" />
<text x="345.0" y="302.0" font-size="7.3" fill="#444" textLength="43.2" lengthAdjust="spacingAndGlyphs" stroke="#444" stroke-width="0.25" >+BM stroma</text>
<text x="406.3" y="170.8" font-size="9" font-weight="bold" fill="#000" textLength="4.6" lengthAdjust="spacingAndGlyphs" stroke="#000" stroke-width="0.3" >ii</text>
<text x="441.2" y="173.5" font-size="8.3" font-weight="bold" fill="#000" textLength="48.1" lengthAdjust="spacingAndGlyphs" stroke="#000" stroke-width="0.3" >hCCL4 (30h)</text>
<line x1="435.4" y1="188.4" x2="435.4" y2="275.5" stroke="#000" stroke-width="1.5" />
<line x1="433.0" y1="265.8" x2="435.4" y2="265.8" stroke="#000" stroke-width="1.0" />
<line x1="433.0" y1="258.91" x2="435.4" y2="258.91" stroke="#000" stroke-width="1.0" />
<line x1="433.0" y1="252.02" x2="435.4" y2="252.02" stroke="#000" stroke-width="1.0" />
<line x1="433.0" y1="245.13000000000002" x2="435.4" y2="245.13000000000002" stroke="#000" stroke-width="1.0" />
<line x1="433.0" y1="238.24" x2="435.4" y2="238.24" stroke="#000" stroke-width="1.0" />
<line x1="433.0" y1="231.35000000000002" x2="435.4" y2="231.35000000000002" stroke="#000" stroke-width="1.0" />
<line x1="433.0" y1="224.46" x2="435.4" y2="224.46" stroke="#000" stroke-width="1.0" />
<line x1="433.0" y1="217.57000000000002" x2="435.4" y2="217.57000000000002" stroke="#000" stroke-width="1.0" />
<line x1="433.0" y1="210.68" x2="435.4" y2="210.68" stroke="#000" stroke-width="1.0" />
<line x1="433.0" y1="203.79000000000002" x2="435.4" y2="203.79000000000002" stroke="#000" stroke-width="1.0" />
<line x1="433.0" y1="196.90000000000003" x2="435.4" y2="196.90000000000003" stroke="#000" stroke-width="1.0" />
<line x1="433.0" y1="190.01000000000002" x2="435.4" y2="190.01000000000002" stroke="#000" stroke-width="1.0" />
<text x="430.0" y="199.50000000000003" font-size="7.4" text-anchor="end" fill="#444" textLength="12.9" lengthAdjust="spacingAndGlyphs" stroke="#444" stroke-width="0.25" >256</text>
<text x="430.0" y="213.28" font-size="7.4" text-anchor="end" fill="#444" textLength="8.6" lengthAdjust="spacingAndGlyphs" stroke="#444" stroke-width="0.25" >64</text>
<text x="430.0" y="227.06" font-size="7.4" text-anchor="end" fill="#444" textLength="8.6" lengthAdjust="spacingAndGlyphs" stroke="#444" stroke-width="0.25" >16</text>
<text x="430.0" y="240.84" font-size="7.4" text-anchor="end" fill="#444" stroke="#444" stroke-width="0.25" >4</text>
<text x="430.0" y="254.62" font-size="7.4" text-anchor="end" fill="#444" stroke="#444" stroke-width="0.25" >1</text>
<text x="430.0" y="268.40000000000003" font-size="7.4" text-anchor="end" fill="#444" textLength="14.5" lengthAdjust="spacingAndGlyphs" stroke="#444" stroke-width="0.25" >0.25</text>
<line x1="435.4" y1="274.9" x2="492.7" y2="274.9" stroke="#000" stroke-width="1.5" />
<text x="0" y="0" font-size="8.2" text-anchor="middle" fill="#444" textLength="20.5" lengthAdjust="spacingAndGlyphs" stroke="#444" stroke-width="0.25" transform="translate(411.4,231) rotate(-90)">pg/mL</text>
<line x1="442.9" y1="275.3" x2="442.9" y2="278" stroke="#000" stroke-width="1.0" />
<line x1="457" y1="275.3" x2="457" y2="278" stroke="#000" stroke-width="1.0" />
<line x1="471.4" y1="275.3" x2="471.4" y2="278" stroke="#000" stroke-width="1.0" />
<line x1="485.4" y1="275.3" x2="485.4" y2="278" stroke="#000" stroke-width="1.0" />
<g stroke="#34507f" stroke-width="0.95" fill="none">
<polyline points="442.9,224.4 457,246.1 471.4,245.6 485.4,273"/>
<polyline points="442.9,253.3 457,267.8 471.4,207.2 485.4,239.3"/>
<polyline points="442.9,265.3 457,275 471.4,222.8 485.4,244.8"/>
</g>
<circle cx="442.9" cy="224.4" r="1.6" fill="#f2dde3" stroke="#801030" stroke-width="1.0"/>
<circle cx="442.9" cy="253.3" r="1.6" fill="#f2dde3" stroke="#801030" stroke-width="1.0"/>
<circle cx="442.9" cy="265.3" r="1.6" fill="#f2dde3" stroke="#801030" stroke-width="1.0"/>
<circle cx="457" cy="246.1" r="1.6" fill="#f2dde3" stroke="#801030" stroke-width="1.0"/>
<circle cx="457" cy="267.8" r="1.6" fill="#f2dde3" stroke="#801030" stroke-width="1.0"/>
<circle cx="457" cy="275" r="1.8" fill="#801030" stroke="none" stroke-width="0.8"/>
<circle cx="471.4" cy="245.6" r="1.8" fill="#801030" stroke="none" stroke-width="0.8"/>
<circle cx="471.4" cy="207.2" r="1.8" fill="#801030" stroke="none" stroke-width="0.8"/>
<circle cx="471.4" cy="222.8" r="1.8" fill="#801030" stroke="none" stroke-width="0.8"/>
<circle cx="485.4" cy="239.3" r="1.8" fill="#801030" stroke="none" stroke-width="0.8"/>
<circle cx="485.4" cy="244.8" r="1.8" fill="#801030" stroke="none" stroke-width="0.8"/>
<circle cx="485.4" cy="273" r="1.8" fill="#801030" stroke="none" stroke-width="0.8"/>
<text x="450.1" y="196" font-size="7" text-anchor="middle" font-weight="bold" fill="#222" stroke="#222" stroke-width="0.3" >*</text>
<text x="479.0" y="196" font-size="7" text-anchor="middle" font-weight="bold" fill="#222" stroke="#222" stroke-width="0.3" >*</text>
<path d="M442.5,202.7 V197.2 H457.6 V216.3" stroke="#1a1a1a" stroke-width="1.2" fill="none"/>
<path d="M471,202.7 V197.2 H487.5 V214.7" stroke="#1a1a1a" stroke-width="1.2" fill="none"/>
<text x="397.5" y="287.3" font-size="7.3" fill="#444" textLength="32.7" lengthAdjust="spacingAndGlyphs" stroke="#444" stroke-width="0.25" >CK1 inh.:</text>
<text x="441.4" y="287.3" font-size="7.3" fill="#444" textLength="54.7" lengthAdjust="spacingAndGlyphs" stroke="#444" stroke-width="0.25" >- 10µM - 10µM</text>
<line x1="467.1" y1="292.5" x2="502.9" y2="292.5" stroke="#000" stroke-width="1.1" />
<text x="464.0" y="302.2" font-size="7.3" fill="#444" textLength="42.9" lengthAdjust="spacingAndGlyphs" stroke="#444" stroke-width="0.25" >+BM stroma</text>
</svg>
</body></html>
